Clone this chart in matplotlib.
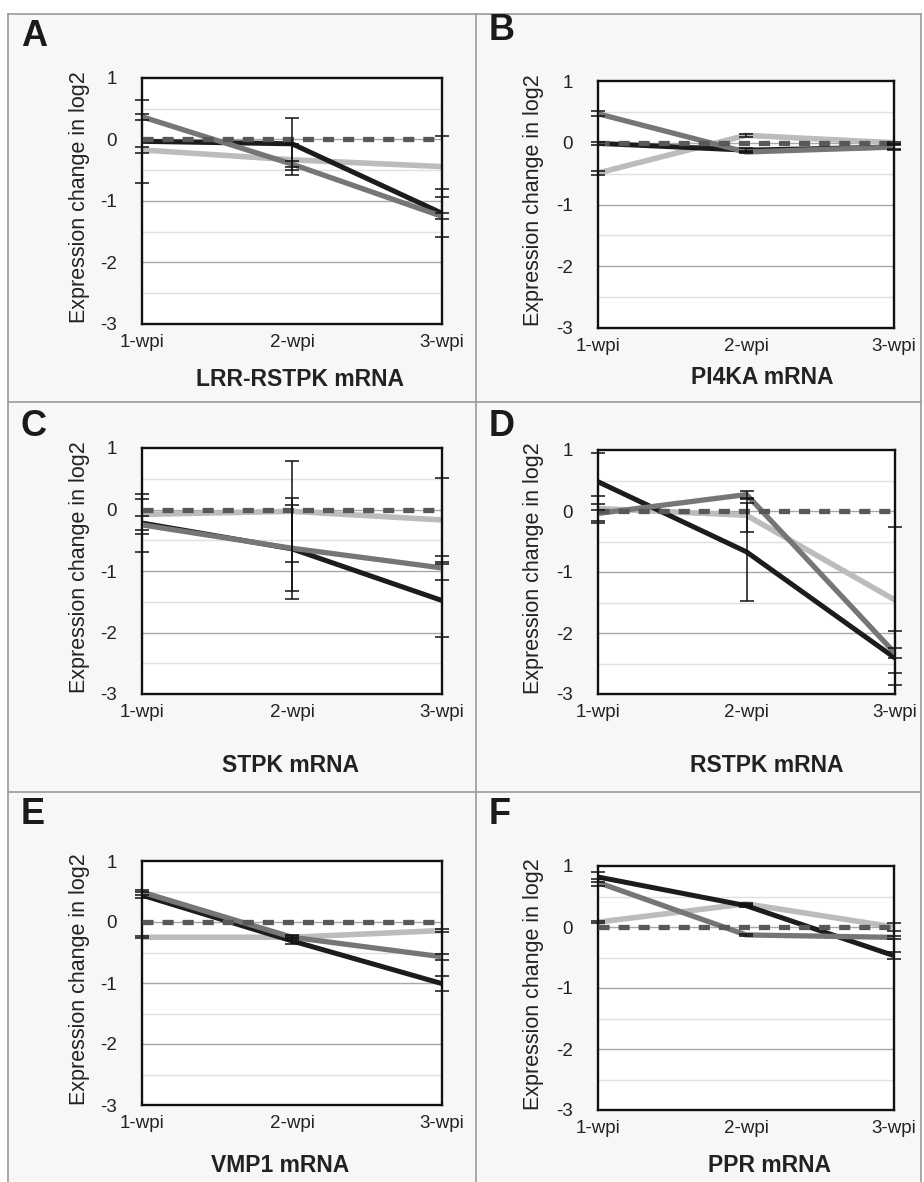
import matplotlib
matplotlib.use("Agg")
import matplotlib.pyplot as plt
from matplotlib.lines import Line2D
from matplotlib.patches import Rectangle

plt.rcParams['font.family'] = ['Liberation Sans', 'DejaVu Sans']

W, H = 924, 1182

timepoints = ['1-wpi', '2-wpi', '3-wpi']
letters = ['A', 'B', 'C', 'D', 'E', 'F']
titles = ['LRR-RSTPK mRNA', 'PI4KA mRNA', 'STPK mRNA', 'RSTPK mRNA', 'VMP1 mRNA', 'PPR mRNA']

# values per panel: black, dark gray, light gray, dashed control
black = [
    [-0.03, -0.07, -1.2],
    [-0.01, -0.12, -0.07],
    [-0.22, -0.64, -1.48],
    [0.48, -0.67, -2.41],
    [0.44, -0.31, -1.01],
    [0.82, 0.35, -0.47],
]
black_err = [
    [0.68, 0.42, 0.39],
    [0.03, 0.03, 0.05],
    [0.47, 0.82, 0.6],
    [0.47, 0.8, 0.45],
    [0.05, 0.05, 0.12],
    [0.08, 0.03, 0.06],
]
dgray = [
    [0.37, -0.4, -1.25],
    [0.47, -0.15, -0.07],
    [-0.25, -0.63, -0.95],
    [-0.04, 0.27, -2.33],
    [0.49, -0.25, -0.57],
    [0.73, -0.13, -0.17],
]
dgray_err = [
    [0.05, 0.05, 0.05],
    [0.04, 0.02, 0.03],
    [0.15, 0.7, 0.19],
    [0.15, 0.06, 0.08],
    [0.04, 0.04, 0.05],
    [0.06, 0.02, 0.03],
]
lgray = [
    [-0.17, -0.33, -0.44],
    [-0.49, 0.12, 0.0],
    [-0.08, -0.03, -0.17],
    [0.04, -0.07, -1.46],
    [-0.25, -0.25, -0.14],
    [0.08, 0.38, 0.0],
]
lgray_err = [
    [0.05, 0.25, 0.5],
    [0.04, 0.02, 0.02],
    [0.25, 0.82, 0.69],
    [0.2, 0.27, 1.2],
    [0.02, 0.02, 0.02],
    [0.02, 0.02, 0.07],
]
control = [0.0, 0.0, 0.0]

# pixel boxes of the axes: left, right, top, bottom
boxes = [
    (142, 442, 78, 324),
    (598, 894, 81, 328),
    (142, 442, 448, 694),
    (598, 895, 450, 694),
    (142, 442, 861, 1105),
    (598, 894, 866, 1110),
]
title_pos = [(300, 380), (762, 378), (290, 765), (767, 765), (280, 1165), (769, 1165)]
letter_pos = [(21, 37), (489, 31), (21, 427), (489, 427), (21, 815), (489, 814)]
ylabel_x = [79, 533, 79, 533, 79, 533]

fig = plt.figure(figsize=(W / 100, H / 100), dpi=100)
fig.patch.set_facecolor('white')
fig.add_artist(Rectangle((8 / W, 0), 913 / W, 1 - 14 / H, transform=fig.transFigure,
                         facecolor='#f7f7f7', edgecolor='none', zorder=-5))

# panel frame
frame_col = '#9a9a9a'
for xp in [8, 476, 921]:
    fig.add_artist(Line2D([xp / W, xp / W], [0, 1 - 14 / H], color=frame_col, lw=1.2))
for yp in [14, 402, 792]:
    fig.add_artist(Line2D([8 / W, 921 / W], [1 - yp / H, 1 - yp / H], color=frame_col, lw=1.2))

x = [0, 1, 2]
for i in range(6):
    l, r, t, b = boxes[i]
    ax = fig.add_axes([l / W, 1 - b / H, (r - l) / W, (b - t) / H])
    ax.set_facecolor('white')
    ax.set_xlim(0, 2)
    ax.set_ylim(-3, 1)
    for yv in [0.5, -0.5, -1.5, -2.5]:
        ax.axhline(yv, color='#e0e0e0', lw=1, zorder=0)
    for yv in [0, -1, -2]:
        ax.axhline(yv, color='#a8a8a8', lw=1, zorder=0)

    ax.plot(x, lgray[i], color='#bcbcbc', lw=4.0, zorder=2, solid_capstyle='butt')
    ax.plot(x, black[i], color='#1c1c1c', lw=3.6, zorder=3, solid_capstyle='butt')
    ax.plot(x, dgray[i], color='#767676', lw=3.8, zorder=4, solid_capstyle='butt')
    ax.plot(x, control, color='#585858', lw=3.8, zorder=5, linestyle=(0, (2.1, 1.7)))

    for vals, errs in [(lgray[i], lgray_err[i]), (black[i], black_err[i]), (dgray[i], dgray_err[i])]:
        ax.errorbar(x, vals, yerr=errs, fmt='none', ecolor='#111111', elinewidth=1.1,
                    capsize=5, capthick=1.1, zorder=6, clip_on=False)

    ax.set_xticks(x)
    ax.set_xticklabels(timepoints)
    ax.set_yticks([1, 0, -1, -2, -3])
    ax.set_yticklabels(['1', '0', '-1', '-2', '-3'])
    ax.tick_params(axis='both', length=0, labelsize=13.5, colors='#222222')
    ax.tick_params(axis='y', pad=18)
    ax.tick_params(axis='x', pad=7)
    for s in ax.spines.values():
        s.set_linewidth(1.7)
        s.set_color('#111111')

    fig.text(ylabel_x[i] / W, 1 - ((t + b) / 2 - 4) / H, 'Expression change in log2',
             rotation=90, ha='center', va='center', fontsize=15.5, color='#222222')
    fig.text(title_pos[i][0] / W, 1 - title_pos[i][1] / H, titles[i],
             ha='center', va='center', fontsize=16.5, fontweight='bold', color='#222222')
    fig.text(letter_pos[i][0] / W, 1 - letter_pos[i][1] / H, letters[i],
             ha='left', va='center', fontsize=26, fontweight='bold', color='#1a1a1a')

fig.savefig('out.png', dpi=100, facecolor=fig.get_facecolor())
